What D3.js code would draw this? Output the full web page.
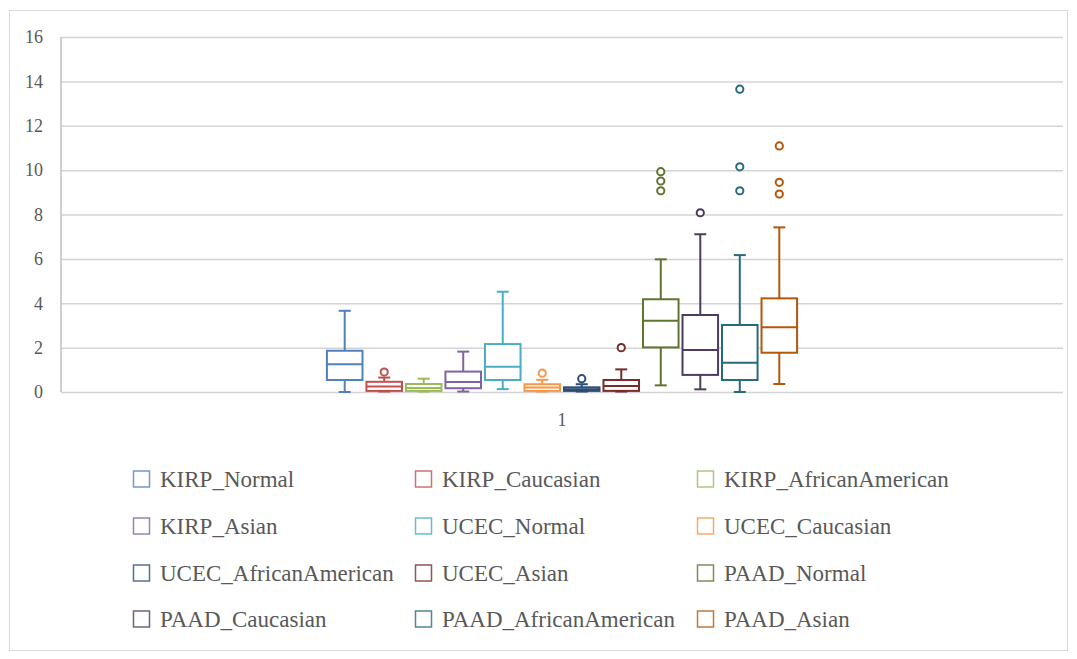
<!DOCTYPE html>
<html>
<head>
<meta charset="utf-8">
<script src="https://cdn.jsdelivr.net/npm/d3@7"></script>
<style>
  body { margin: 0; background: #fff; }
  svg { display: block; }
</style>
</head>
<body>
<svg id="chart" width="1077" height="659"></svg>
<script>
// box plot stats
const categories = ["1"];
const seriesNames = [
  "KIRP_Normal", "KIRP_Caucasian", "KIRP_AfricanAmerican",
  "KIRP_Asian", "UCEC_Normal", "UCEC_Caucasian",
  "UCEC_AfricanAmerican", "UCEC_Asian", "PAAD_Normal",
  "PAAD_Caucasian", "PAAD_AfricanAmerican", "PAAD_Asian"
];
const seriesColors = [
  "#4f81bd", "#c0504d", "#9bbb59", "#8064a2", "#4bacc6", "#f79646",
  "#2c4d75", "#772c2a", "#5f7530", "#4d3b62", "#276a7c", "#b65708"
];
const whiskerLow  = [0.0, 0.02, 0.02, 0.02, 0.13, 0.02, 0.02, 0.02, 0.30, 0.12, 0.0, 0.36];
const q1Values    = [0.54, 0.05, 0.05, 0.17, 0.54, 0.05, 0.05, 0.05, 2.01, 0.77, 0.54, 1.77];
const medians     = [1.25, 0.25, 0.18, 0.45, 1.14, 0.2, 0.12, 0.27, 3.21, 1.89, 1.32, 2.92];
const q3Values    = [1.86, 0.46, 0.36, 0.92, 2.16, 0.35, 0.21, 0.54, 4.18, 3.47, 3.02, 4.22];
const whiskerHigh = [3.66, 0.65, 0.6, 1.82, 4.52, 0.55, 0.35, 1.02, 5.98, 7.11, 6.17, 7.42];
const outliers = [
  [], [0.9], [], [], [], [0.85], [0.6], [2.0],
  [9.93, 9.51, 9.07], [8.08], [13.65, 10.15, 9.07], [11.09, 9.45, 8.92]
];
const yTicks = [0, 2, 4, 6, 8, 10, 12, 14, 16];

const serif = "'Liberation Serif', 'DejaVu Serif', serif";
const svg = d3.select("#chart");
const plot = { left: 61, right: 1063, top: 37, bottom: 392 };

// chart frame
svg.append("rect")
  .attr("x", 9.5).attr("y", 10.5)
  .attr("width", 1058).attr("height", 640)
  .attr("fill", "#fff")
  .attr("stroke", "#d9d9d9")
  .attr("stroke-width", 1);

const y = d3.scaleLinear().domain([0, 16]).range([plot.bottom, plot.top]);
const x0 = d3.scaleBand().domain(categories)
  .range([plot.left, plot.right])
  .paddingOuter(0.548);
const x1 = d3.scaleBand().domain(seriesNames)
  .range([0, x0.bandwidth()])
  .padding(0.1);

// gridlines
svg.append("g")
  .attr("transform", `translate(${plot.left},0)`)
  .call(d3.axisLeft(y).tickValues(yTicks).tickSize(-(plot.right - plot.left)).tickFormat(""))
  .call(g => g.select(".domain").remove())
  .call(g => g.selectAll(".tick line").attr("stroke", "#d4d4d4").attr("stroke-width", 1.5));

// left axis line
svg.append("line")
  .attr("x1", plot.left).attr("x2", plot.left)
  .attr("y1", plot.top).attr("y2", plot.bottom)
  .attr("stroke", "#bfbfbf").attr("stroke-width", 1.5);

// y labels
svg.append("g")
  .attr("transform", `translate(${plot.left - 15},0)`)
  .attr("font-family", serif)
  .call(d3.axisLeft(y).tickValues(yTicks).tickSize(0))
  .attr("font-family", serif)
  .attr("font-size", 18)
  .call(g => g.select(".domain").remove())
  .call(g => g.selectAll(".tick text").attr("fill", "#595959"));

// x label
svg.append("g")
  .attr("transform", `translate(0,${plot.bottom + 18})`)
  .call(d3.axisBottom(x0).tickSize(0))
  .attr("font-family", serif)
  .attr("font-size", 18)
  .call(g => g.select(".domain").remove())
  .call(g => g.selectAll(".tick text").attr("fill", "#595959"));

// boxes
const boxes = svg.append("g")
  .selectAll("g")
  .data(seriesNames)
  .join("g")
  .attr("transform", d => `translate(${x0("1") + x1(d)},0)`);

const bw = x1.bandwidth();
const capW = 12;

boxes.each(function(name, i) {
  const g = d3.select(this);
  const c = seriesColors[i];
  const cx = bw / 2;
  // whiskers
  g.append("line")
    .attr("x1", cx).attr("x2", cx)
    .attr("y1", y(whiskerHigh[i])).attr("y2", y(q3Values[i]))
    .attr("stroke", c).attr("stroke-width", 2);
  g.append("line")
    .attr("x1", cx).attr("x2", cx)
    .attr("y1", y(q1Values[i])).attr("y2", y(whiskerLow[i]))
    .attr("stroke", c).attr("stroke-width", 2);
  [whiskerHigh[i], whiskerLow[i]].forEach(v => {
    g.append("line")
      .attr("x1", cx - capW / 2).attr("x2", cx + capW / 2)
      .attr("y1", y(v)).attr("y2", y(v))
      .attr("stroke", c).attr("stroke-width", 2);
  });
  // box
  g.append("rect")
    .attr("x", 0).attr("width", bw)
    .attr("y", y(q3Values[i]))
    .attr("height", y(q1Values[i]) - y(q3Values[i]))
    .attr("fill", "#fff")
    .attr("stroke", c).attr("stroke-width", 2);
  g.append("line")
    .attr("x1", 0).attr("x2", bw)
    .attr("y1", y(medians[i])).attr("y2", y(medians[i]))
    .attr("stroke", c).attr("stroke-width", 2);
  // outliers
  g.selectAll("circle")
    .data(outliers[i])
    .join("circle")
    .attr("cx", cx).attr("cy", v => y(v))
    .attr("r", 3.6)
    .attr("fill", "#fff")
    .attr("stroke", c).attr("stroke-width", 2);
});

// legend
const legCols = [133, 415, 697];
const legRows = [479, 526, 573, 619];
const legend = svg.append("g")
  .selectAll("g")
  .data(seriesNames)
  .join("g")
  .attr("transform", (d, i) => `translate(${legCols[i % 3]},${legRows[Math.floor(i / 3)]})`);

legend.append("rect")
  .attr("x", 0.5).attr("y", -8)
  .attr("width", 16).attr("height", 16)
  .attr("fill", "#fff")
  .attr("stroke", (d, i) => seriesColors[i])
  .attr("stroke-width", 1.5)
  .attr("opacity", 0.8);

legend.append("text")
  .attr("x", 27).attr("y", 0)
  .attr("dy", "0.35em")
  .attr("font-family", serif)
  .attr("font-size", 23)
  .attr("fill", "#595959")
  .text(d => d);
</script>
</body>
</html>
